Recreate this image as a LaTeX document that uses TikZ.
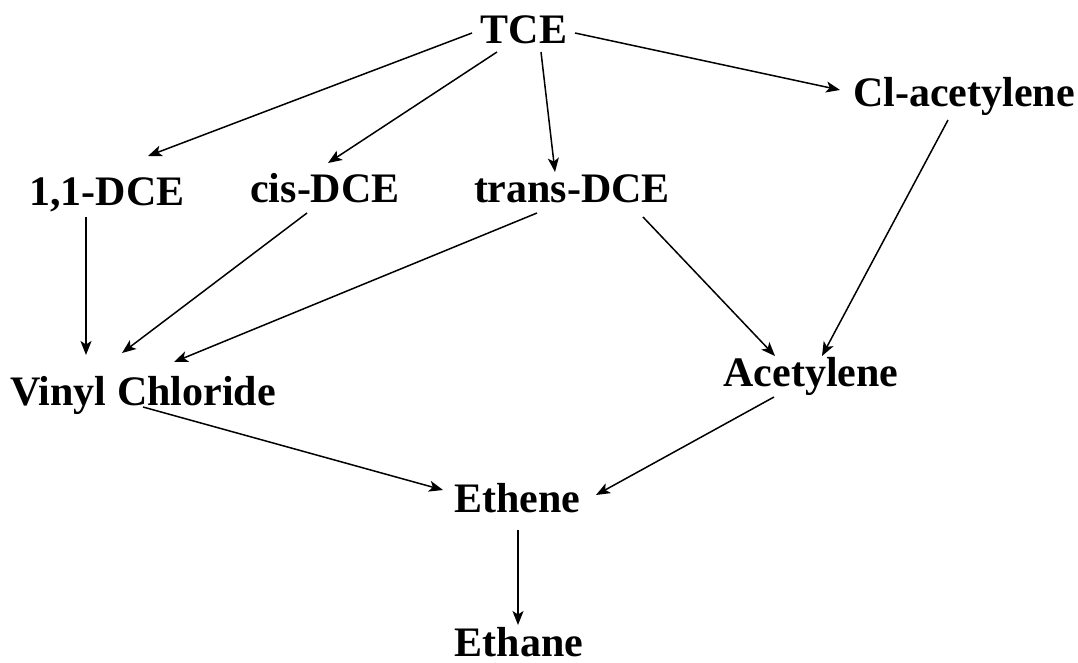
\documentclass[tikz,border=0pt]{standalone}
\usepackage{fontspec}
\setmainfont{Liberation Serif}
\usetikzlibrary{arrows.meta,calc}
\begin{document}
\begin{tikzpicture}[x=1pt,y=-1pt,
  lbl/.style={anchor=base,inner sep=0pt,font=\fontsize{42}{46}\selectfont\bfseries},
  arr/.style={-{Stealth[length=14pt,width=11pt,inset=3.5pt]},line width=1.5pt}]
\useasboundingbox (0,0) rectangle (1078,663);
\node[lbl] (TCE) at (524,44) {TCE};
\node[lbl] (Cl) at (964,107) {Cl-acetylene};
\node[lbl] (D11) at (107,205) {1,1-DCE};
\node[lbl] (cis) at (325,202) {cis-DCE};
\node[lbl] (trans) at (572,202) {trans-DCE};
\node[lbl] (VC) at (143,405) {Vinyl Chloride};
\node[lbl] (Ac) at (811,386) {Acetylene};
\node[lbl] (Ethene) at (517,512) {Ethene};
\node[lbl] (Ethane) at (519,656) {Ethane};
\draw[arr] ($(TCE.base)+(-52,-11)$) -- ($(D11.base)+(41,-49)$);
\draw[arr] ($(TCE.base)+(-27,8)$) -- ($(cis.base)+(3,-39)$);
\draw[arr] ($(TCE.base)+(17,8)$) -- ($(trans.base)+(-17,-30)$);
\draw[arr] ($(TCE.base)+(51,-11)$) -- ($(Cl.base)+(-124,-17)$);
\draw[arr] ($(D11.base)+(-21,12)$) -- ($(VC.base)+(-57,-50)$);
\draw[arr] ($(cis.base)+(-18,11)$) -- ($(VC.base)+(-21,-52)$);
\draw[arr] ($(trans.base)+(-35,11)$) -- ($(VC.base)+(31,-43)$);
\draw[arr] ($(trans.base)+(71,15)$) -- ($(Ac.base)+(-36,-30)$);
\draw[arr] ($(Cl.base)+(-16,13)$) -- ($(Ac.base)+(11,-30)$);
\draw[arr] ($(VC.base)+(0,2)$) -- ($(Ethene.base)+(-74,-22)$);
\draw[arr] ($(Ac.base)+(-37,11)$) -- ($(Ethene.base)+(79,-17)$);
\draw[arr] ($(Ethene.base)+(1,18)$) -- ($(Ethane.base)+(-1,-31)$);
\end{tikzpicture}
\end{document}
